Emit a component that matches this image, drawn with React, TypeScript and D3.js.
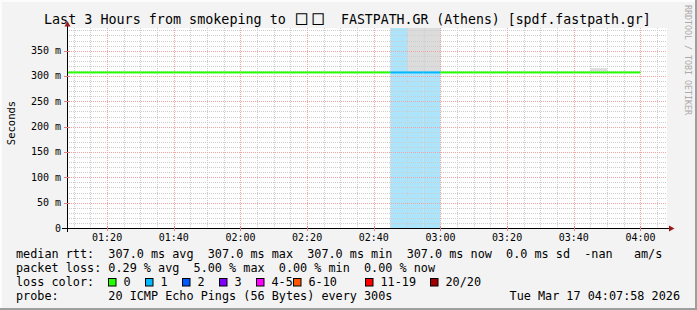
import React from "react";
import * as d3 from "d3";

// ---------- data ----------
const titleLeft = "Last 3 Hours from smokeping to";
const titleTofu = "□□";
const titleRight = "FASTPATH.GR (Athens) [spdf.fastpath.gr]";

// step end times (5 min steps)
const stepEnds = [
  "01:10", "01:15", "01:20", "01:25", "01:30", "01:35", "01:40", "01:45", "01:50", "01:55",
  "02:00", "02:05", "02:10", "02:15", "02:20", "02:25", "02:30", "02:35", "02:40", "02:45",
  "02:50", "02:55", "03:00", "03:05", "03:10", "03:15", "03:20", "03:25", "03:30", "03:35",
  "03:40", "03:45", "03:50", "03:55", "04:00",
];
const medianRtt = [
  307, 307, 307, 307, 307, 307, 307, 307, 307, 307,
  307, 307, 307, 307, 307, 307, 307, 307, 307, 307,
  307, 307, 307, 307, 307, 307, 307, 307, 307, 307,
  307, 307, 307, 307, 307,
];
const lossCount = [
  0, 0, 0, 0, 0, 0, 0, 0, 0, 0,
  0, 0, 0, 0, 0, 0, 0, 0, 0, 0,
  1, 1, 1, 0, 0, 0, 0, 0, 0, 0,
  0, 0, 0, 0, 0,
];
const smokeLow: (number | null)[] = [
  null, null, null, null, null, null, null, null, null, null,
  null, null, null, null, null, null, null, null, null, null,
  null, 309, 309, null, null, null, null, null, null, null,
  null, null, 309.5, null, null,
];
const smokeHigh: (number | null)[] = [
  null, null, null, null, null, null, null, null, null, null,
  null, null, null, null, null, null, null, null, null, null,
  null, 420, 420, null, null, null, null, null, null, null,
  null, null, 315.5, null, null,
];

const yMajorTicks = [0, 50, 100, 150, 200, 250, 300, 350];
const xTickLabels = ["01:20", "01:40", "02:00", "02:20", "02:40", "03:00", "03:20", "03:40", "04:00"];

const lossLabels = ["0", "1", "2", "3", "4-5", "6-10", "11-19", "20/20"];
const lossColors = ["#26ff00", "#00b8ff", "#0059ff", "#7e00ff", "#ff00ff", "#ff5500", "#ff0000", "#a10000"];
const lossBg = ["none", "#abe4fb", "#b3c9fb", "#cfb3fb", "#fbb3fb", "#fbc9b3", "#fbb3b3", "#e0b3b3"];

const legendLine1 = "median rtt:  307.0 ms avg  307.0 ms max  307.0 ms min  307.0 ms now  0.0 ms sd  -nan   am/s";
const legendLine2 = "packet loss: 0.29 % avg  5.00 % max  0.00 % min  0.00 % now";
const legendLine3 = "loss color:";
const legendLine4 = "probe:       20 ICMP Echo Pings (56 Bytes) every 300s";
const dateText = "Tue Mar 17 04:07:58 2026";
const credit = "RRDTOOL / TOBI OETIKER";
const yTitle = "Seconds";

// ---------- layout ----------
const W = 697, H = 310;
const PL = 67, PR = 667, PT = 28, PB = 228;
const FONT = "'DejaVu Sans Mono', monospace";

const toMin = (s: string) => {
  const [h, m] = s.split(":").map(Number);
  return h * 60 + m;
};
const tStart = 67 + 58 / 60; // 01:07:58
const tEnd = 247 + 58 / 60; // 04:07:58

export default function App() {
  const x = d3.scaleLinear().domain([tStart, tEnd]).range([PL, PR]);
  const y = d3.scaleLinear().domain([0, 394.7]).range([PB, PT]);

  const minorX = d3.range(70, 250, 5).filter((m) => m % 20 !== 0 && m > tStart && m < tEnd);
  const majorX = xTickLabels.map(toMin);
  const minorY = d3.range(10, 400, 10).filter((v) => v % 50 !== 0 && y(v) >= PT);

  const steps = stepEnds.map((s, i) => ({ end: toMin(s), start: toMin(s) - 5, i }));

  const legendSquareX = [108.5, 145.5, 182.5, 219.5, 256.5, 293.5, 365.5, 430.5];

  return (
    <svg
      width={W}
      height={H}
      style={{ position: "absolute", left: 0, top: 0, display: "block" }}
      fontFamily={FONT}
    >
      <defs>
        <clipPath id="plotclip">
          <rect x={PL} y={PT} width={PR - PL} height={PB - PT} />
        </clipPath>
      </defs>
      <rect x={0} y={0} width={W} height={H} fill="#f3f3f3" />
      {/* shade border */}
      <rect x={0} y={0} width={W} height={2} fill="#fcfcfc" />
      <rect x={0} y={0} width={2} height={H} fill="#fcfcfc" />
      <rect x={0} y={H - 2} width={W} height={2} fill="#9e9e9e" />
      <rect x={W - 2} y={0} width={2} height={H} fill="#9e9e9e" />

      {/* title */}
      <text y={24} fontSize={13.4} fill="#000">
        <tspan x={44}>{titleLeft}</tspan>
        <tspan x={296} fontSize={19} letterSpacing={5}>{titleTofu}</tspan>
        <tspan x={341} fontSize={13.2}>{titleRight}</tspan>
      </text>

      {/* canvas */}
      <rect x={PL} y={PT} width={PR - PL} height={PB - PT} fill="#ffffff" />

      <g clipPath="url(#plotclip)">
        {/* loss background */}
        {steps.map((s) =>
          lossCount[s.i] > 0 ? (
            <rect
              key={"lb" + s.i}
              x={x(s.start)}
              y={PT}
              width={x(s.end) - x(s.start)}
              height={PB - PT}
              fill={lossBg[lossCount[s.i]]}
            />
          ) : null
        )}
        {/* smoke */}
        {steps.map((s) =>
          smokeLow[s.i] != null && smokeHigh[s.i] != null ? (
            <rect
              key={"sm" + s.i}
              x={x(s.start)}
              y={y(smokeHigh[s.i] as number)}
              width={x(s.end) - x(s.start)}
              height={y(smokeLow[s.i] as number) - y(smokeHigh[s.i] as number)}
              fill="#dcdcdc"
            />
          ) : null
        )}
      </g>

      {/* grid */}
      {minorY.map((v) => (
        <line key={"my" + v} x1={PL} x2={PR} y1={Math.round(y(v)) + 0.5} y2={Math.round(y(v)) + 0.5} stroke="#cdcdcd" strokeDasharray="1,1" />
      ))}
      {minorX.map((m) => (
        <line key={"mx" + m} x1={Math.round(x(m)) + 0.5} x2={Math.round(x(m)) + 0.5} y1={PT} y2={PB} stroke="#cdcdcd" strokeDasharray="1,1" />
      ))}
      {yMajorTicks.filter((v) => v > 0).map((v) => (
        <line key={"My" + v} x1={PL} x2={PR} y1={Math.round(y(v)) + 0.5} y2={Math.round(y(v)) + 0.5} stroke="#f0a4a4" strokeDasharray="1,1" />
      ))}
      {majorX.map((m) => (
        <line key={"Mx" + m} x1={Math.round(x(m)) + 0.5} x2={Math.round(x(m)) + 0.5} y1={PT} y2={PB} stroke="#f0a4a4" strokeDasharray="1,1" />
      ))}

      {/* median line */}
      <g clipPath="url(#plotclip)">
        {steps.map((s) => (
          <line
            key={"ln" + s.i}
            x1={x(s.start)}
            x2={x(s.end)}
            y1={y(medianRtt[s.i])}
            y2={y(medianRtt[s.i])}
            stroke={lossColors[lossCount[s.i]]}
            strokeWidth={2}
          />
        ))}
      </g>

      {/* axes */}
      <line x1={PL - 5} x2={PR + 2} y1={PB + 0.5} y2={PB + 0.5} stroke="#000" />
      <line x1={PL + 0.5} x2={PL + 0.5} y1={PB + 4} y2={PT - 2} stroke="#000" />
      <path d={`M${PL + 0.5 - 3},${PT - 1.5} L${PL + 0.5 + 3},${PT - 1.5} L${PL + 0.5},${PT - 7} Z`} fill="#9a1a1a" />
      <path d={`M${PR + 2},${PB + 0.5 - 3} L${PR + 2},${PB + 0.5 + 3} L${PR + 7.5},${PB + 0.5} Z`} fill="#9a1a1a" />
      {majorX.map((m) => (
        <line key={"tx" + m} x1={Math.round(x(m)) + 0.5} x2={Math.round(x(m)) + 0.5} y1={PB - 2} y2={PB + 3} stroke="#e08080" />
      ))}
      {yMajorTicks.filter((v) => v > 0).map((v) => (
        <line key={"ty" + v} x1={PL - 3} x2={PL + 3} y1={Math.round(y(v)) + 0.5} y2={Math.round(y(v)) + 0.5} stroke="#e08080" />
      ))}

      {/* y labels */}
      {yMajorTicks.map((v) => (
        <text key={"yl" + v} x={61} y={y(v) + 3.5} fontSize={10} textAnchor="end" fill="#000">
          {v === 0 ? "0" : `${v} m`}
        </text>
      ))}
      {/* x labels */}
      {xTickLabels.map((s) => (
        <text key={"xl" + s} x={x(toMin(s))} y={241} fontSize={10} textAnchor="middle" fill="#000">
          {s}
        </text>
      ))}

      <text transform="translate(15,123) rotate(-90)" fontSize={10.5} textAnchor="middle" fill="#000">
        {yTitle}
      </text>
      <text transform="translate(685,5) rotate(90)" fontSize={8.3} fill="#aaaaaa">
        {credit}
      </text>

      {/* legend */}
      <g fontSize={11.8} fill="#000" style={{ whiteSpace: "pre" }}>
        <text x={16} y={258} xmlSpace="preserve">{legendLine1}</text>
        <text x={16} y={272} xmlSpace="preserve">{legendLine2}</text>
        <text x={16} y={286} xmlSpace="preserve">{legendLine3}</text>
        <text x={16} y={300} xmlSpace="preserve">{legendLine4}</text>
        <text x={680} y={300} textAnchor="end">{dateText}</text>
        {lossLabels.map((l, i) => (
          <g key={"lg" + l}>
            <rect x={legendSquareX[i]} y={278.5} width={7.5} height={7.5} fill={lossColors[i]} stroke="#000" strokeWidth={1} />
            <text x={legendSquareX[i] + 15} y={286}>{l}</text>
          </g>
        ))}
      </g>
    </svg>
  );
}
